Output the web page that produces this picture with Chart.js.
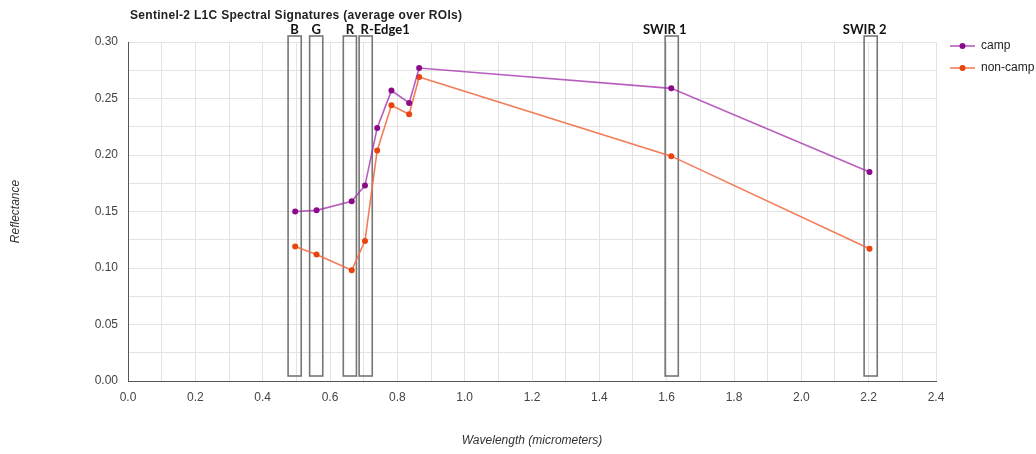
<!DOCTYPE html>
<html>
<head>
<meta charset="utf-8">
<script src="https://cdn.jsdelivr.net/npm/chart.js@4.4.0/dist/chart.umd.min.js"></script>
<style>
html,body{margin:0;padding:0;background:#fff;}
#wrap{width:1036px;height:454px;position:relative;}
</style>
</head>
<body>
<div id="wrap"><canvas id="c" width="1036" height="454"></canvas></div>
<script>
// ---- data ----
const wavelengths = [0.4966, 0.56, 0.6645, 0.7039, 0.7402, 0.7825, 0.8351, 0.8648, 1.6137, 2.2024];
const campValues = [0.150, 0.151, 0.159, 0.173, 0.224, 0.257, 0.246, 0.277, 0.259, 0.185];
const nonCampValues = [0.119, 0.112, 0.098, 0.124, 0.204, 0.244, 0.236, 0.269, 0.199, 0.117];
const seriesNames = ['camp', 'non-camp'];
const bandNames = ['B', 'G', 'R', 'R-Edge1', 'SWIR 1', 'SWIR 2'];
const bandCenters = [0.495, 0.559, 0.659, 0.706, 1.615, 2.206];
const bandWidth = 0.039;
const chartTitle = 'Sentinel-2 L1C Spectral Signatures (average over ROIs)';
const xTitle = 'Wavelength (micrometers)';
const yTitle = 'Reflectance';

// ---- styles ----
const campLine = 'rgba(160,40,170,0.75)';
const campPoint = '#8a0a8a';
const nonLine = 'rgba(242,110,70,0.9)';
const nonPoint = '#e8440e';
const bandLabelDx = [0, 0, 0, null, -7, -6]; // null = left aligned at box left

const toPts = (ys) => wavelengths.map((x, i) => ({x: x, y: ys[i]}));

const overlay = {
  id: 'overlay',
  beforeDatasetsDraw(chart) {
    const {ctx, chartArea, scales: {x}} = chart;
    ctx.save();
    ctx.strokeStyle = '#767676';
    ctx.lineWidth = 1.6;
    bandCenters.forEach((c) => {
      const l = x.getPixelForValue(c - bandWidth / 2);
      const r = x.getPixelForValue(c + bandWidth / 2);
      ctx.strokeRect(l, chartArea.top - 6, r - l, chartArea.bottom - 5 - (chartArea.top - 6));
    });
    ctx.restore();
  },
  afterDraw(chart) {
    const {ctx, chartArea, scales: {x}} = chart;
    ctx.save();
    // title
    ctx.fillStyle = '#222';
    ctx.font = 'bold 12px "Liberation Sans", Arial, sans-serif';
    ctx.letterSpacing = '0.3px';
    ctx.textAlign = 'left';
    ctx.textBaseline = 'alphabetic';
    ctx.fillText(chartTitle, 130, 19);
    ctx.letterSpacing = '0px';
    // band labels
    ctx.font = 'bold 13px Lato, "Open Sans", sans-serif';
    ctx.fillStyle = '#111';
    bandNames.forEach((n, i) => {
      const c = bandCenters[i];
      if (bandLabelDx[i] === null) {
        ctx.textAlign = 'left';
        ctx.fillText(n, x.getPixelForValue(c - bandWidth / 2) + 1.5, 34);
      } else {
        ctx.textAlign = 'center';
        ctx.fillText(n, x.getPixelForValue(c) + bandLabelDx[i], 34);
      }
    });
    // legend
    const lx = chartArea.right + 14;
    const rows = [[campLine, campPoint, 46], [nonLine, nonPoint, 68]];
    ctx.font = '12px "Liberation Sans", Arial, sans-serif';
    ctx.textAlign = 'left';
    ctx.textBaseline = 'middle';
    rows.forEach((r, i) => {
      ctx.strokeStyle = r[0];
      ctx.lineWidth = 1.6;
      ctx.beginPath();
      ctx.moveTo(lx, r[2]);
      ctx.lineTo(lx + 25, r[2]);
      ctx.stroke();
      ctx.fillStyle = r[1];
      ctx.beginPath();
      ctx.arc(lx + 12.5, r[2], 3, 0, Math.PI * 2);
      ctx.fill();
      ctx.fillStyle = '#222';
      ctx.fillText(seriesNames[i], lx + 31, r[2]);
    });
    ctx.restore();
  }
};

new Chart(document.getElementById('c'), {
  type: 'scatter',
  data: {
    datasets: [
      {
        label: seriesNames[0], data: toPts(campValues), showLine: true,
        borderColor: campLine, backgroundColor: campPoint, pointBackgroundColor: campPoint,
        pointBorderWidth: 0, pointRadius: 3, borderWidth: 1.6, tension: 0
      },
      {
        label: seriesNames[1], data: toPts(nonCampValues), showLine: true,
        borderColor: nonLine, backgroundColor: nonPoint, pointBackgroundColor: nonPoint,
        pointBorderWidth: 0, pointRadius: 3, borderWidth: 1.6, tension: 0
      }
    ]
  },
  options: {
    responsive: false,
    animation: false,
    devicePixelRatio: 1,
    layout: {padding: {top: 42, right: 100, left: 0, bottom: 0}},
    plugins: {legend: {display: false}, tooltip: {enabled: false}, title: {display: false}},
    scales: {
      x: {
        type: 'linear', min: 0, max: 2.4,
        afterFit(s) { s.height = 73; },
        border: {color: '#555', width: 1},
        grid: {color: '#e3e3e3', lineWidth: 1, drawTicks: false},
        ticks: {
          stepSize: 0.1, padding: 9, color: '#444', maxRotation: 0, autoSkip: false,
          font: {family: '"Liberation Sans", Arial, sans-serif', size: 12},
          callback: (v) => (Math.round(v * 10) % 2 === 0 ? v.toFixed(1) : '')
        },
        title: {
          display: true, text: xTitle, color: '#333',
          font: {family: '"Liberation Sans", Arial, sans-serif', size: 12, style: 'italic'},
          padding: {top: 0, bottom: 6}
        }
      },
      y: {
        type: 'linear', min: 0, max: 0.3,
        afterFit(s) { s.width = 128; },
        border: {color: '#555', width: 1},
        grid: {color: '#e3e3e3', lineWidth: 1, drawTicks: false},
        ticks: {
          stepSize: 0.025, padding: 10, color: '#444', autoSkip: false,
          font: {family: '"Liberation Sans", Arial, sans-serif', size: 12},
          callback: (v) => (Math.round(v * 1000) % 50 === 0 ? v.toFixed(2) : '')
        },
        title: {
          display: true, text: yTitle, color: '#333',
          font: {family: '"Liberation Sans", Arial, sans-serif', size: 12, style: 'italic'},
          padding: {top: 8, bottom: 0}
        }
      }
    }
  },
  plugins: [overlay]
});
</script>
</body>
</html>
